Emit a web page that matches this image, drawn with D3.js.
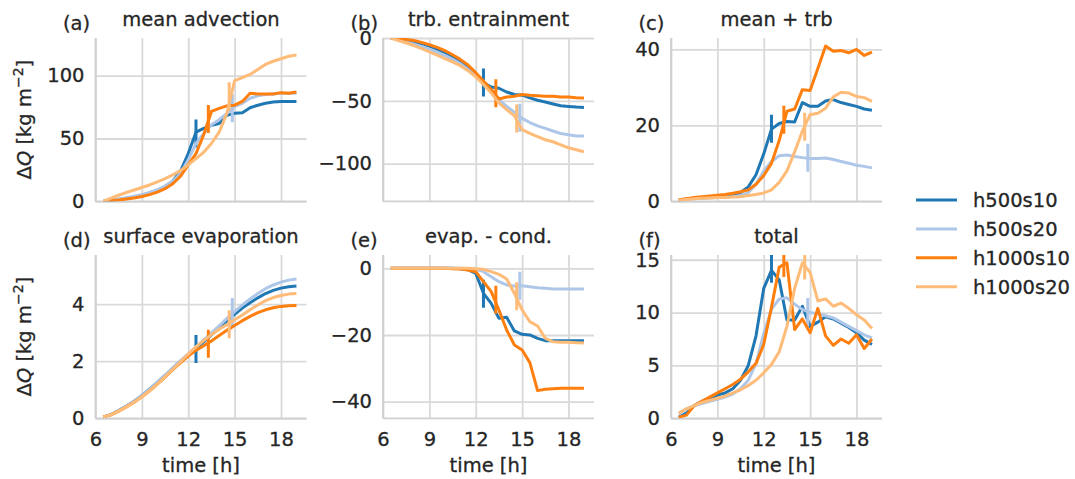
<!DOCTYPE html>
<html>
<head>
<meta charset="utf-8">
<script src="https://cdn.jsdelivr.net/npm/d3@7"></script>
<style>
  body { margin: 0; background: #fff; }
  text { font-family: "DejaVu Sans", sans-serif; fill: #262626; stroke: #262626; stroke-width: 0.3px; }
</style>
</head>
<body>
<div id="chart"></div>
<script>
// time axis, hours
const times = [6.5, 7, 7.5, 8, 8.5, 9, 9.5, 10, 10.5, 11, 11.5, 12, 12.5, 13, 13.5, 14, 14.5, 15, 15.5, 16, 16.5, 17, 17.5, 18, 18.5, 19];
const seriesNames = ["h500s10", "h500s20", "h1000s10", "h1000s20"];
const seriesColors = ["#1f77b4", "#aec7e8", "#ff7f0e", "#ffbb78"];
// time of the vertical marks, one per series
const markTimes = [12.5, 14.85, 13.3, 14.65];

// each panel: rows in seriesNames order
const meanAdvection = [
  [0, 0.6, 1.4, 2.4, 3.5, 4.8, 6.6, 8.8, 11.8, 16, 24, 38, 55, 58, 60.5, 62, 68.5, 70, 70.5, 74.5, 76.5, 78, 79, 79.5, 79.5, 79.5],
  [0, 0.8, 1.8, 2.9, 4.0, 5.3, 7.0, 9.2, 12, 16, 22, 33, 46, 54, 61, 65, 70, 75.5, 78, 82, 84, 85, 85.5, 86, 86, 86],
  [0, 0.4, 1.0, 1.8, 2.7, 3.8, 5.3, 7.3, 10, 14, 20, 29, 38, 53, 71.5, 74, 76, 76.5, 79.5, 86, 85.5, 85.5, 85.5, 86.5, 86, 87],
  [0, 2.5, 4.8, 7, 9, 11, 13, 15.5, 18, 21, 24.5, 29, 34, 39, 46, 55, 70, 96, 98.5, 101, 105, 109, 111.5, 113.5, 115.5, 116.5]
];
const trbEntrainment = [
  [0, -0.8, -1.8, -3, -4.5, -6.5, -8.8, -11.5, -14.5, -18, -23, -29, -35.5, -39, -40, -43, -45, -45.5, -47.7, -49.6, -51, -52.5, -54, -54.5, -55, -55.3],
  [0, -1.5, -3.2, -5, -7, -9, -11.5, -14, -17, -20.5, -25, -30, -36, -42.5, -49, -54.5, -59, -64, -67.3, -70, -72, -74, -76, -77, -78, -78],
  [0, -0.5, -1.2, -2, -3.5, -5.4, -7.5, -10, -13.3, -17, -21.5, -27.6, -34.3, -41, -48.5, -47, -46.4, -45, -45.6, -46, -46.4, -46.4, -47, -47, -47.5, -47.7],
  [0, -2, -4, -6, -8.5, -11, -13.7, -16.4, -19, -22, -26, -31, -37, -43.7, -51.7, -57, -62, -73, -76, -78.5, -81, -82.6, -85, -87.4, -89, -90.6]
];
const meanPlusTrb = [
  [0.3, 0.6, 0.8, 1.0, 1.1, 1.2, 1.3, 1.6, 2.3, 3.8, 7, 12.5, 19, 20.5, 21, 20.9, 26, 25, 25, 26.4, 26.8, 26, 25.5, 25, 24.3, 24],
  [0.3, 0.5, 0.7, 0.8, 0.9, 1.0, 1.1, 1.2, 1.5, 2.3, 4.5, 8, 10.5, 12, 12.2, 11.8, 11.5, 11.3, 11.3, 11.4, 11, 10.5, 10, 9.5, 9.2, 8.8],
  [0.4, 0.7, 1.0, 1.2, 1.4, 1.6, 1.8, 2.1, 2.5, 3.0, 4.5, 6.8, 10, 16, 23.7, 24.3, 29.4, 29.2, 35, 40.9, 39.5, 39.7, 39.1, 40, 38.4, 39.3],
  [0.3, 0.5, 0.7, 0.8, 0.9, 1.0, 1.0, 1.1, 1.2, 1.5, 1.8, 2.2, 3, 5, 8, 13, 18.5, 22.8, 23.2, 24.5, 27.5, 28.7, 28.5, 27.6, 27.3, 26.3]
];
const surfaceEvaporation = [
  [0.05, 0.13, 0.27, 0.43, 0.6, 0.8, 1.02, 1.26, 1.5, 1.76, 2.0, 2.23, 2.45, 2.68, 2.92, 3.17, 3.41, 3.64, 3.86, 4.05, 4.22, 4.37, 4.48, 4.56, 4.61, 4.63],
  [0.05, 0.13, 0.27, 0.43, 0.6, 0.8, 1.02, 1.26, 1.51, 1.77, 2.02, 2.26, 2.5, 2.74, 2.99, 3.24, 3.5, 3.74, 3.97, 4.18, 4.37, 4.54, 4.67, 4.77, 4.84, 4.88],
  [0.05, 0.12, 0.25, 0.4, 0.56, 0.75, 0.96, 1.2, 1.44, 1.7, 1.95, 2.18, 2.38, 2.54, 2.71, 2.9, 3.08, 3.25, 3.42, 3.57, 3.7, 3.8, 3.87, 3.92, 3.94, 3.95],
  [0.05, 0.12, 0.25, 0.4, 0.56, 0.75, 0.96, 1.2, 1.45, 1.72, 1.98, 2.25, 2.5, 2.72, 2.93, 3.12, 3.28, 3.45, 3.62, 3.8, 3.97, 4.12, 4.23, 4.3, 4.35, 4.37]
];
const evapCond = [
  [0, 0, 0, 0, 0, 0, 0, 0, 0, -0.1, -0.4, -1.5, -7.5, -10.5, -15, -14.7, -18.8, -19.8, -20, -21, -21.7, -21.7, -21.7, -21.7, -21.7, -21.7],
  [0, 0, 0, 0, 0, 0, 0, 0, 0, 0, -0.1, -0.3, -1, -2.5, -4, -5, -5.3, -5.2, -5.5, -5.8, -6.0, -6.2, -6.2, -6.2, -6.2, -6.2],
  [0, 0, 0, 0, 0, 0, 0, 0, -0.1, -0.2, -0.5, -1, -4, -7, -12.5, -18.5, -23, -24.5, -28.3, -36.7, -36.3, -36.1, -36, -36, -36, -36],
  [0, 0, 0, 0, 0, 0, 0, 0, 0, 0, 0, -0.1, -0.3, -1, -1.8, -3.2, -7.5, -12.5, -16, -17.3, -21, -22, -22.2, -22.2, -22.3, -22.4]
];
const total = [
  [0.1, 0.5, 1.2, 1.6, 1.9, 2.2, 2.4, 2.8, 3.6, 5.0, 7.8, 12.3, 14, 13.1, 9.3, 9.3, 10.6, 8.7, 9.1, 9.6, 9.4, 9.0, 8.6, 8.1, 7.4, 7.0],
  [0.4, 0.9, 1.2, 1.4, 1.6, 1.8, 2.0, 2.3, 2.8, 3.6, 5.2, 8, 10.3, 11.3, 11.4, 10.8, 10.3, 10.0, 9.9, 9.7, 9.5, 9.1, 8.7, 8.3, 7.9, 7.6],
  [0.1, 0.3, 1.2, 1.6, 2.0, 2.4, 2.8, 3.2, 3.7, 4.4, 5.2, 7.0, 10.5, 14.3, 14.7, 8.4, 9.4, 8.1, 10.4, 7.8, 6.9, 7.5, 7.1, 7.9, 6.6, 7.5],
  [0.5, 0.9, 1.2, 1.5, 1.7, 1.9, 2.1, 2.4, 2.7, 3.1, 3.6, 4.3, 5.1, 6.3, 8.7, 12.3, 14.7, 13.8, 11.1, 11.3, 10.6, 10.9, 10.4, 9.8, 9.3, 8.5]
];
// centre value of each vertical mark, per panel
const markAdvection = [54, 74, 65.6, 83.6];
const markEntrainment = [-35.5, -63.4, -44, -64];
const markMeanTrb = [19.1, 11.5, 21.5, 19.6];
const markSurface = [2.43, 3.72, 2.61, 3.29];
const markEvapCond = [-7.6, -5.2, -9.4, -8.4];
const markTotal = [14.15, 10.05, 14.7, 14.45];

const panelTitles = ["mean advection", "trb. entrainment", "mean + trb", "surface evaporation", "evap. - cond.", "total"];
const panelLetters = ["(a)", "(b)", "(c)", "(d)", "(e)", "(f)"];
const xTicks = [6, 9, 12, 15, 18];

const W = 1075, H = 479;
const colX = [95.5, 383, 671];
const rowY = [38, 255];
const pw = 211, ph = 163.3;

const panels = [
  {data: meanAdvection, marks: markAdvection, ylim: [0, 130], ticks: [0, 50, 100]},
  {data: trbEntrainment, marks: markEntrainment, ylim: [-130, 0], ticks: [-100, -50, 0]},
  {data: meanPlusTrb, marks: markMeanTrb, ylim: [0, 43], ticks: [0, 20, 40]},
  {data: surfaceEvaporation, marks: markSurface, ylim: [0, 5.72], ticks: [0, 2, 4]},
  {data: evapCond, marks: markEvapCond, ylim: [-45, 4], ticks: [-40, -20, 0]},
  {data: total, marks: markTotal, ylim: [0, 15.45], ticks: [0, 5, 10, 15]}
];

const fmt = v => (v < 0 ? "\u2212" + Math.abs(v) : String(v));
const LW = 3;

const svg = d3.select("#chart").append("svg")
    .attr("width", W).attr("height", H);
svg.append("rect").attr("width", W).attr("height", H).attr("fill", "#fff");

panels.forEach(function(p, i) {
  let col = i % 3, row = Math.floor(i / 3);
  let x0 = colX[col], y0 = rowY[row];
  let x = d3.scaleLinear().domain([6, 19.65]).range([0, pw]);
  let y = d3.scaleLinear().domain(p.ylim).range([ph, 0]);

  let g = svg.append("g").attr("transform", "translate(" + x0 + "," + y0 + ")");

  // grid
  g.append("g")
      .call(d3.axisLeft(y).tickValues(p.ticks).tickSize(-pw).tickFormat(fmt).tickPadding(11))
      .call(a => a.select(".domain").remove())
      .call(a => a.selectAll("line").attr("stroke", "#d9d9d9").attr("stroke-width", 1.8))
      .call(a => a.selectAll("text").attr("font-size", "19.5px").attr("fill", "#262626")
        .style("font-family", "DejaVu Sans"));
  let xa = g.append("g")
      .attr("transform", "translate(0," + ph + ")")
      .call(d3.axisBottom(x).tickValues(xTicks).tickSize(-ph).tickPadding(14))
      .call(a => a.select(".domain").remove())
      .call(a => a.selectAll("line").attr("stroke", "#d9d9d9").attr("stroke-width", 1.8))
      .call(a => a.selectAll("text").attr("font-size", "19.5px").attr("fill", "#262626")
        .style("font-family", "DejaVu Sans"));
  if (row == 0) xa.selectAll("text").remove();

  // spines left + bottom
  g.append("line").attr("x1", 0).attr("x2", 0).attr("y1", 0).attr("y2", ph)
      .attr("stroke", "#d0d0d0").attr("stroke-width", 1.8);
  g.append("line").attr("x1", 0).attr("x2", pw).attr("y1", ph).attr("y2", ph)
      .attr("stroke", "#d0d0d0").attr("stroke-width", 1.8);

  let clipId = "clip" + i;
  g.append("clipPath").attr("id", clipId)
    .append("rect").attr("width", pw).attr("height", ph);
  let plot = g.append("g").attr("clip-path", "url(#" + clipId + ")");

  let line = d3.line()
      .x((d, k) => x(times[k]))
      .y(d => y(d));

  p.data.forEach(function(vals, s) {
    plot.append("path")
        .attr("d", line(vals))
        .attr("fill", "none")
        .attr("stroke", seriesColors[s])
        .attr("stroke-width", LW)
        .attr("stroke-linejoin", "round");
    let mx = x(markTimes[s]), my = y(p.marks[s]);
    plot.append("line")
        .attr("x1", mx).attr("x2", mx)
        .attr("y1", my - 14).attr("y2", my + 14)
        .attr("stroke", seriesColors[s])
        .attr("stroke-width", LW);
  });

  // title and letter
  g.append("text").attr("x", pw / 2).attr("y", -12)
      .attr("text-anchor", "middle").attr("font-size", "19.5px")
      .text(panelTitles[i]);
  g.append("text").attr("x", -32.5).attr("y", -8)
      .attr("font-size", "19.5px")
      .text(panelLetters[i]);

  if (row == 1) {
    g.append("text").attr("x", pw / 2).attr("y", ph + 54)
        .attr("text-anchor", "middle").attr("font-size", "19.5px")
        .text("time [h]");
  }
  if (col == 0) {
    let t = g.append("text")
        .attr("transform", "translate(" + (-65) + "," + (ph / 2) + ") rotate(-90)")
        .attr("text-anchor", "middle").attr("font-size", "19.5px");
    t.append("tspan").text("\u0394");
    t.append("tspan").attr("font-style", "italic").text("Q");
    t.append("tspan").text(" [kg m");
    t.append("tspan").attr("dy", -8).attr("font-size", "14px").text("\u22122");
    t.append("tspan").attr("dy", 8).text("]");
  }
});

// legend
const legend = svg.append("g").attr("transform", "translate(916,200)");
seriesNames.forEach(function(name, s) {
  let ly = s * 28.9;
  legend.append("line").attr("x1", 0).attr("x2", 41).attr("y1", ly).attr("y2", ly)
      .attr("stroke", seriesColors[s]).attr("stroke-width", LW);
  legend.append("text").attr("x", 57).attr("y", ly + 7)
      .attr("font-size", "19.5px").text(name);
});
</script>
</body>
</html>
